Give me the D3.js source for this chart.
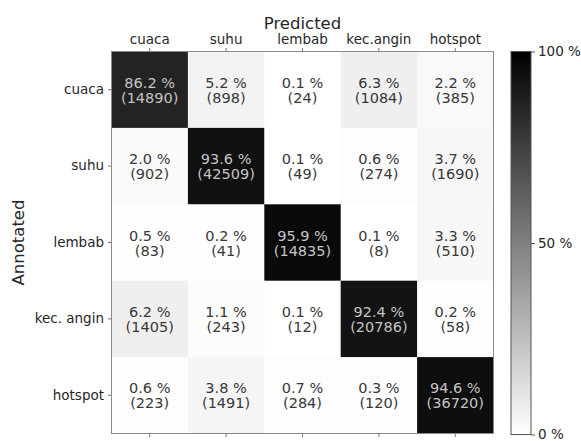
<!DOCTYPE html>
<html><head><meta charset="utf-8">
<script src="https://cdn.jsdelivr.net/npm/d3@7"></script>
<style>body{margin:0;background:#fff}svg{display:block}text{font-family:"DejaVu Sans",sans-serif}</style>
</head><body><svg id="c" width="581" height="441"></svg>
<script>
const rowLabels = ["cuaca","suhu","lembab","kec. angin","hotspot"];
const colLabels = ["cuaca","suhu","lembab","kec.angin","hotspot"];
const percents = [
  [86.2, 5.2, 0.1, 6.3, 2.2],
  [2.0, 93.6, 0.1, 0.6, 3.7],
  [0.5, 0.2, 95.9, 0.1, 3.3],
  [6.2, 1.1, 0.1, 92.4, 0.2],
  [0.6, 3.8, 0.7, 0.3, 94.6]
];
const counts = [
  [14890, 898, 24, 1084, 385],
  [902, 42509, 49, 274, 1690],
  [83, 41, 14835, 8, 510],
  [1405, 243, 12, 20786, 58],
  [223, 1491, 284, 120, 36720]
];
const cbTicks = [0, 50, 100];

(function(){
const svg = d3.select("#c");
const L = 111.5, R = 493.5, T = 51.5, B = 433.5;
const x = d3.scaleBand().domain(colLabels).range([L, R]);
const y = d3.scaleBand().domain(rowLabels).range([T, B]);
const color = d3.scaleLinear().domain([0, 100]).range(["#ffffff", "#000000"]);

const cells = [];
percents.forEach((row, i) => row.forEach((p, j) => cells.push({r: rowLabels[i], c: colLabels[j], p, n: counts[i][j]})));

svg.append("g").selectAll("rect").data(cells).join("rect")
  .attr("x", d => x(d.c)).attr("y", d => y(d.r))
  .attr("width", x.bandwidth()+0.5).attr("height", y.bandwidth()+0.5)
  .attr("fill", d => color(d.p));

const tg = svg.append("g").attr("font-size", 14.5).attr("text-anchor", "middle");
cells.forEach(d => {
  const cx = x(d.c) + x.bandwidth()/2, cy = y(d.r) + y.bandwidth()/2;
  const fill = d.p > 50 ? "#c4c4c4" : "#383838";
  tg.append("text").attr("x", cx).attr("y", cy - 2).attr("fill", fill).text(d.p.toFixed(1) + " %");
  tg.append("text").attr("x", cx).attr("y", cy + 13).attr("fill", fill).text("(" + d.n + ")");
});

svg.append("rect").attr("x", L).attr("y", T).attr("width", R-L).attr("height", B-T)
  .attr("fill", "none").attr("stroke", "#8a8a8a").attr("stroke-width", 1);

const axTop = svg.append("g").attr("transform", `translate(0,${T})`)
  .call(d3.axisTop(x).tickSize(3.5).tickPadding(4));
const axBottom = svg.append("g").attr("transform", `translate(0,${B})`)
  .call(d3.axisBottom(x).tickSize(3.5).tickFormat(""));
const axLeft = svg.append("g").attr("transform", `translate(${L},0)`)
  .call(d3.axisLeft(y).tickSize(3.5).tickPadding(4));
[axTop, axBottom, axLeft].forEach(g => {
  g.select(".domain").remove();
  g.selectAll("line").attr("stroke", "#777");
  g.selectAll("text").attr("font-family", "DejaVu Sans").attr("font-size", 13.5).attr("fill", "#262626");
});

svg.append("text").attr("x", (L+R)/2).attr("y", 28.5).attr("text-anchor", "middle")
  .attr("font-size", 16.5).attr("fill", "#262626").text("Predicted");
svg.append("text").attr("transform", `translate(24,${(T+B)/2}) rotate(-90)`).attr("text-anchor", "middle")
  .attr("font-size", 16.5).attr("fill", "#262626").text("Annotated");

const cbL = 511, cbW = 20;
const cbScale = d3.scaleLinear().domain([0, 100]).range([B + 1, T]);
const defs = svg.append("defs");
const grad = defs.append("linearGradient").attr("id", "g").attr("x1", 0).attr("y1", 1).attr("x2", 0).attr("y2", 0);
grad.append("stop").attr("offset", 0).attr("stop-color", color(0));
grad.append("stop").attr("offset", 1).attr("stop-color", color(100));
svg.append("rect").attr("x", cbL).attr("y", cbScale(100)).attr("width", cbW).attr("height", cbScale(0)-cbScale(100))
  .attr("fill", "url(#g)").attr("stroke", "#555").attr("stroke-width", 1);
const cba = svg.append("g").attr("transform", `translate(${cbL+cbW},0)`)
  .call(d3.axisRight(cbScale).tickValues(cbTicks).tickSize(4).tickPadding(3).tickFormat(d => d + " %"));
cba.select(".domain").remove();
cba.selectAll("line").attr("stroke", "#555");
cba.selectAll("text").attr("font-family", "DejaVu Sans").attr("font-size", 13.5).attr("fill", "#262626");
})();
</script></body></html>
